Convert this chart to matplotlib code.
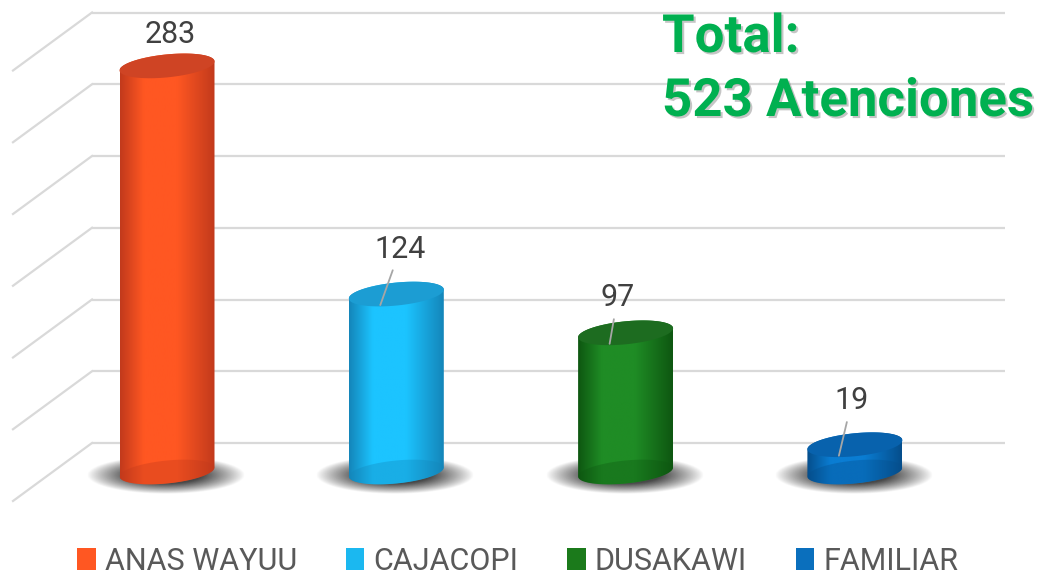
import numpy as np
import matplotlib
matplotlib.use("Agg")
import matplotlib.pyplot as plt
from matplotlib.patches import Polygon, Patch
from matplotlib.colors import LinearSegmentedColormap
import matplotlib.patheffects as pe

plt.rcParams["font.family"] = ["Roboto", "DejaVu Sans"]

# data
categories = ["ANAS WAYUU", "CAJACOPI", "DUSAKAWI", "FAMILIAR"]
values = [283, 124, 97, 19]
total_label = "523 Atenciones"
legend_colors = ["#FF5722", "#1BB8F0", "#1B7A1B", "#0A6FBD"]
# (edge dark, light, top face)
shades = [("#C23A1C", "#FF5722", "#CF4424"),
		  ("#1486BA", "#1CC4FF", "#1C9DD3"),
		  ("#0E5711", "#1F8C25", "#1D6C20"),
		  ("#054E8C", "#0A7DD3", "#0862AD")]

# pixel <-> data helpers (x: category units, y: value units)
PX_X = 229.3
PX_Y = 1.435
fig = plt.figure(figsize=(10.41, 5.75), dpi=100)
ax = fig.add_axes([0, 0, 1, 1])
ax.set_xlim(-167 / PX_X, (1041 - 167) / PX_X)
ax.set_ylim((472 - 575) / PX_Y, 472 / PX_Y)
ax.axis("off")

depth = 29 / PX_Y          # half depth of the floor
wall_x0 = (92 - 167) / PX_X
wall_x1 = (1005 - 167) / PX_X
side_x0 = (13 - 167) / PX_X

# gridlines on back and left walls
for v in range(0, 301, 50):
	ax.plot([wall_x0, wall_x1], [v + depth, v + depth], color="#d9d9d9", lw=1.6, zorder=1, solid_capstyle="butt")
	ax.plot([side_x0, wall_x0], [v - depth, v + depth], color="#d9d9d9", lw=1.6, zorder=1)

a = 47.5 / PX_X       # half width of cylinder
b = 11.5 / PX_Y       # half height of ellipse
tilt = 4.5 / PX_Y

def ell(cx, cy, t):
	return np.column_stack([cx + a * np.cos(t), cy + b * np.sin(t) + tilt * np.cos(t)])

# soft shadow image
gx, gy = np.meshgrid(np.linspace(-1, 1, 240), np.linspace(-1, 1, 80))
r = np.sqrt(gx ** 2 + gy ** 2)
sh_alpha = 0.9 * np.clip((1 - r) / 0.55, 0, 1) ** 0.9
shadow = np.zeros((80, 240, 4))
shadow[..., :3] = 0.2
shadow[..., 3] = sh_alpha

for i, v in enumerate(values):
	dark, light, top = shades[i]
	# shadow
	ax.imshow(shadow, extent=[i - 80 / PX_X, i + 78 / PX_X, -22 / PX_Y, 16 / PX_Y],
			  aspect="auto", zorder=2, interpolation="bilinear")
	# body
	t_up = np.linspace(np.pi, 0, 60)
	t_dn = np.linspace(0, -np.pi, 60)
	body = np.vstack([ell(i, v, t_up), ell(i, 0, t_dn)])
	poly = Polygon(body, closed=True, facecolor="none", edgecolor="none", zorder=3)
	ax.add_patch(poly)
	grad = np.linspace(0, 1, 200).reshape(1, -1)
	cmap = LinearSegmentedColormap.from_list("c%d" % i, [(0, dark), (0.25, light), (0.6, light), (1.0, dark)])
	im = ax.imshow(grad, cmap=cmap, extent=[i - a, i + a, -b - tilt, v + b + tilt],
				   aspect="auto", zorder=3, interpolation="bilinear")
	im.set_clip_path(poly)
	# see-through bottom face
	base = Polygon(ell(i, 0, np.linspace(0, 2 * np.pi, 100)), closed=True,
				   facecolor=dark, edgecolor="none", alpha=0.35, zorder=4)
	ax.add_patch(base)
	base.set_clip_path(poly)
	# top face
	topf = Polygon(ell(i, v, np.linspace(0, 2 * np.pi, 100)), closed=True,
				   facecolor=top, edgecolor="none", zorder=5)
	ax.add_patch(topf)

# value labels
lab_font = dict(fontsize=22, color="#404040", ha="center", va="center")
ax.annotate(str(values[0]), xy=(0, values[0]), xytext=(3, 31), textcoords="offset pixels", zorder=6, **lab_font)
offs = [None, (20, 56), (8, 46), (13, 55)]
for i in range(1, len(values)):
	anchor = (i - 16 / PX_X, values[i] - 11 / PX_Y)
	ax.annotate(str(values[i]), xy=anchor, xytext=offs[i], textcoords="offset pixels", zorder=6,
				arrowprops=dict(arrowstyle="-", color="#a6a6a6", lw=1.3, shrinkA=3, shrinkB=0), **lab_font)

# total text
sh = [pe.SimplePatchShadow(offset=(1.5, -1.5), shadow_rgbFace="#7f7f7f", alpha=0.45), pe.Normal()]
fig.text(662 / 1041, 1 - 52 / 575, "Total:", fontsize=38, fontweight="bold", color="#00B050",
		 ha="left", va="baseline", path_effects=sh)
fig.text(662 / 1041, 1 - 116 / 575, total_label, fontsize=38, fontweight="bold", color="#00B050",
		 ha="left", va="baseline", path_effects=sh)

# legend
handles = [Patch(facecolor=c, edgecolor="none") for c in legend_colors]
leg = fig.legend(handles, categories, loc="center", bbox_to_anchor=(518 / 1041, 1 - 561 / 575),
				 ncol=4, frameon=False, fontsize=22, handlelength=0.6, handleheight=0.75,
				 handletextpad=0.3, columnspacing=1.6, borderpad=0)
for t in leg.get_texts():
	t.set_color("#595959")

fig.savefig("out.png", dpi=100)
